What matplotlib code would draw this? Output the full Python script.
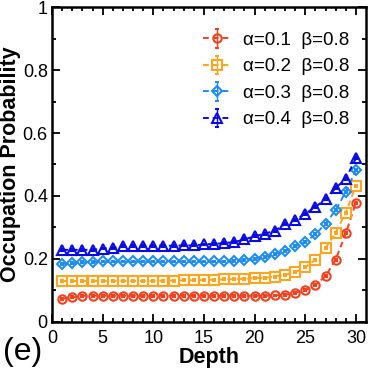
import numpy as np
import matplotlib
matplotlib.use("Agg")
import matplotlib.pyplot as plt

plt.rcParams['font.family'] = ['Liberation Sans', 'DejaVu Sans']

depth = list(range(1, 31))

# occupation probability per depth
p01 = [0.073, 0.078, 0.083, 0.083, 0.083, 0.083, 0.083, 0.083, 0.083, 0.083,
       0.083, 0.083, 0.083, 0.083, 0.083, 0.083, 0.083, 0.083, 0.083, 0.083,
       0.083, 0.084, 0.086, 0.093, 0.100, 0.117, 0.145, 0.198, 0.281, 0.379]
p02 = [0.130, 0.130, 0.130, 0.130, 0.130, 0.130, 0.130, 0.130, 0.130, 0.130,
       0.131, 0.131, 0.132, 0.132, 0.133, 0.134, 0.135, 0.136, 0.137, 0.139,
       0.140, 0.144, 0.150, 0.158, 0.173, 0.198, 0.235, 0.283, 0.347, 0.433]
p03 = [0.184, 0.186, 0.189, 0.190, 0.192, 0.192, 0.192, 0.192, 0.192, 0.192,
       0.192, 0.192, 0.192, 0.192, 0.192, 0.192, 0.192, 0.193, 0.197, 0.200,
       0.205, 0.216, 0.224, 0.240, 0.254, 0.278, 0.312, 0.355, 0.413, 0.482]
p04 = [0.229, 0.229, 0.229, 0.229, 0.233, 0.235, 0.240, 0.241, 0.242, 0.242,
       0.242, 0.242, 0.243, 0.243, 0.246, 0.248, 0.250, 0.254, 0.262, 0.272,
       0.280, 0.290, 0.310, 0.323, 0.344, 0.365, 0.390, 0.425, 0.455, 0.520]
err = [0.003] * 30

series = [p01, p02, p03, p04]
labels = ['α=0.1  β=0.8', 'α=0.2  β=0.8', 'α=0.3  β=0.8', 'α=0.4  β=0.8']
colors = ['#F5401E', '#FFA41F', '#1E8CF0', '#0A0AE6']
markers = ['o', 's', 'D', '^']
msizes = [6, 6.5, 5, 6.5]

fig = plt.figure(figsize=(3.69, 3.73), dpi=100)
ax = fig.add_axes([0.141, 0.137, 0.851, 0.844])

for y, lab, c, m, ms in zip(series, labels, colors, markers, msizes):
    ax.errorbar(depth, y, yerr=err, color=c, ls='--', lw=1.4, marker=m,
                ms=ms, mfc='none', mec=c, mew=1.5, capsize=1.5, elinewidth=1,
                label=lab, dashes=(3, 2))

ax.set_xlim(0, 31)
ax.set_ylim(0, 1)
ax.set_xticks([0, 5, 10, 15, 20, 25, 30])
ax.set_xticks(range(0, 31), minor=True)
ax.set_yticks([0, 0.2, 0.4, 0.6, 0.8, 1])
ax.set_yticklabels(['0', '0.2', '0.4', '0.6', '0.8', '1'])
ax.set_yticks(np.arange(0, 1.01, 0.1), minor=True)
ax.tick_params(which='both', direction='in', top=True, right=True,
               labelsize=13, width=1.3)
ax.tick_params(which='major', length=6)
ax.tick_params(which='minor', length=3)
ax.tick_params(axis='x', pad=6)
ax.tick_params(axis='y', pad=3)
for s in ax.spines.values():
    s.set_linewidth(1.8)

ax.set_xlabel('Depth', fontsize=15.5, fontweight='bold', labelpad=0)
ax.set_ylabel('Occupation Probability', fontsize=15.5, fontweight='bold', labelpad=1)

ax.legend(loc='upper right', frameon=False, fontsize=13.5, handlelength=1.5,
          labelspacing=0.5, handletextpad=0.6, bbox_to_anchor=(1.0, 0.975))

fig.text(0.008, 0.035, '(e)', fontsize=23)

fig.savefig('out.png', dpi=100)
